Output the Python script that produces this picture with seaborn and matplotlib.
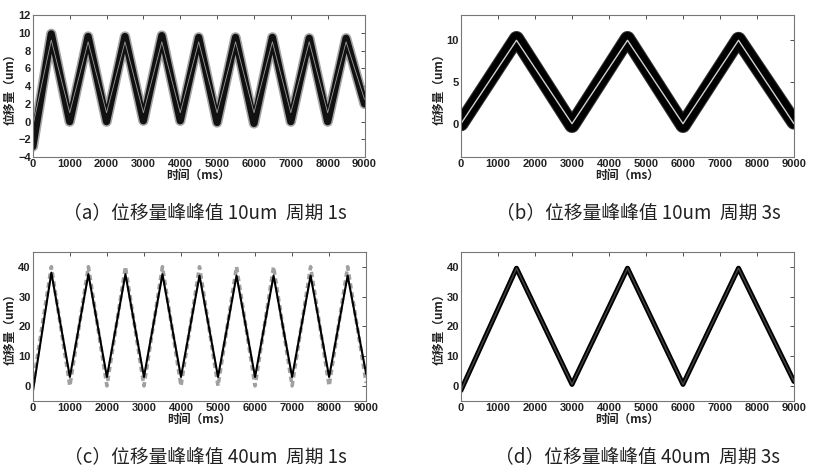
import matplotlib
matplotlib.use("Agg")
import matplotlib.pyplot as plt
import seaborn as sns
import pandas as pd

# vertex times (ms) of the triangle drives
t_1s = [0, 500, 1000, 1500, 2000, 2500, 3000, 3500, 4000, 4500,
        5000, 5500, 6000, 6500, 7000, 7500, 8000, 8500, 9000]
t_3s = [0, 1500, 3000, 4500, 6000, 7500, 9000]

# (a) 10um, 1s : measured band centre and reference
a_meas = [-2.8, 9.9, 0.0, 9.6, 0.0, 9.6, 0.1, 9.7, 0.1, 9.5,
          -0.1, 9.5, -0.2, 9.5, 0.0, 9.4, 0.0, 9.4, 2.0]
a_ref = [-0.5, 9.2, 1.0, 9.0, 1.0, 9.0, 1.0, 9.0, 1.0, 9.0,
         1.0, 9.0, 1.0, 9.0, 1.0, 9.0, 1.0, 9.0, 2.5]

# (b) 10um, 3s
b_meas = [0.0, 10.2, -0.2, 10.2, -0.2, 10.1, 0.2]
b_ref = [0.0, 10.0, 0.0, 10.0, 0.0, 10.0, 0.0]

# (c) 40um, 1s
c_meas = [-2.0, 38.0, 3.0, 37.5, 3.0, 37.5, 3.0, 37.5, 3.0, 37.0,
          3.0, 37.0, 3.0, 37.0, 3.0, 37.0, 3.0, 37.0, 4.0]
c_ref = [0.0, 40.0, 0.0, 40.0, 0.0, 40.0, 0.0, 40.0, 0.0, 40.0,
         0.0, 40.0, 0.0, 40.0, 0.0, 40.0, 0.0, 40.0, 1.0]

# (d) 40um, 3s
d_meas = [-1.5, 39.5, 0.5, 39.5, 0.5, 39.5, 1.5]

xticks = [0, 1000, 2000, 3000, 4000, 5000, 6000, 7000, 8000, 9000]
captions = ["（a）位移量峰峰值 10um  周期 1s", "（b）位移量峰峰值 10um  周期 3s",
            "（c）位移量峰峰值 40um  周期 1s", "（d）位移量峰峰值 40um  周期 3s"]

sns.set_theme(style="white")
plt.rcParams['font.family'] = ['Liberation Sans', 'Noto Sans CJK SC', 'DejaVu Sans']
plt.rcParams['axes.linewidth'] = 0.8

fig = plt.figure(figsize=(8.21, 4.76), dpi=100)
ax_a = fig.add_axes([0.040, 0.670, 0.404, 0.298])
ax_b = fig.add_axes([0.5615, 0.670, 0.4056, 0.298])
ax_c = fig.add_axes([0.040, 0.158, 0.406, 0.313])
ax_d = fig.add_axes([0.5615, 0.158, 0.4056, 0.313])


def draw(ax, t, y, **kw):
    df = pd.DataFrame({"t": t, "y": y})
    sns.lineplot(data=df, x="t", y="y", ax=ax, estimator=None, sort=False, **kw)


# (a)
draw(ax_a, t_1s, a_meas, color="#8f8f8f", linewidth=7.5, alpha=0.8)
draw(ax_a, t_1s, a_meas, color="#111111", linewidth=5.2)
draw(ax_a, t_1s, a_ref, color="#9a9a9a", linewidth=0.6)
# (b)
draw(ax_b, t_3s, b_meas, color="#333333", linewidth=11.0)
draw(ax_b, t_3s, b_meas, color="black", linewidth=9.5)
draw(ax_b, t_3s, b_ref, color="#d0d0d0", linewidth=1.0)
# (c)
draw(ax_c, t_1s, c_ref, color="#a0a0a0", linewidth=2.6, linestyle=(0, (1.5, 1.0)))
draw(ax_c, t_1s, c_meas, color="black", linewidth=1.5)
# (d)
draw(ax_d, t_3s, d_meas, color="black", linewidth=3.6)
draw(ax_d, t_3s, d_meas, color="#444444", linewidth=1.0)

ylims = [(-4, 12), (-4, 13), (-5, 45), (-5, 45)]
yticks = [[-4, -2, 0, 2, 4, 6, 8, 10, 12], [0, 5, 10],
          [0, 10, 20, 30, 40], [0, 10, 20, 30, 40]]
for ax, lim, yt in zip([ax_a, ax_b, ax_c, ax_d], ylims, yticks):
    ax.set_xlim(0, 9000)
    ax.set_ylim(*lim)
    ax.set_xticks(xticks)
    ax.set_yticks(yt)
    ax.tick_params(direction="in", length=3, width=0.6, top=True, right=True,
                   labelsize=8, pad=1.5, colors="#333333", labelcolor="#222222")
    for lab in ax.get_xticklabels() + ax.get_yticklabels():
        lab.set_fontweight("bold")
    for sp in ax.spines.values():
        sp.set_color("#777777")
    ax.set_xlabel("时间（ms）", fontsize=8.5, fontweight="bold", labelpad=0,
                  family=['Noto Sans CJK SC', 'DejaVu Sans'], color="#222222")
    ax.set_ylabel("位移量（um）", fontsize=8.5, fontweight="bold", labelpad=1,
                  family=['Noto Sans CJK SC', 'DejaVu Sans'], color="#222222")

cap_pos = [(0.25, 0.553), (0.777, 0.553), (0.25, 0.040), (0.777, 0.040)]
for (x, y), txt in zip(cap_pos, captions):
    fig.text(x, y, txt, ha="center", va="center", fontsize=13.5,
             family=['Noto Sans CJK SC', 'DejaVu Sans'], color="#222222")

fig.savefig("out.png", dpi=100)
